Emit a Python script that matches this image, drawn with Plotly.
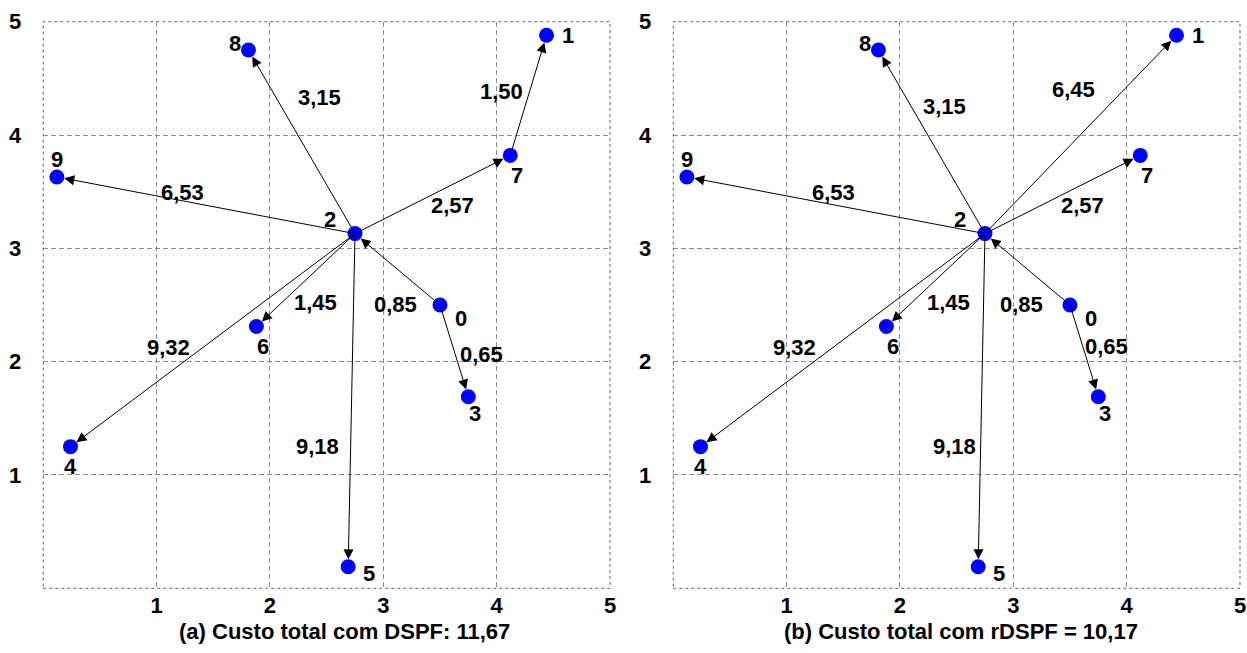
import plotly.graph_objects as go

# Node coordinates (ids 0..9)
node_ids = [0, 1, 2, 3, 4, 5, 6, 7, 8, 9]
node_x = [3.50, 4.44, 2.75, 3.75, 0.24, 2.69, 1.88, 4.12, 1.81, 0.12]
node_y = [2.50, 4.88, 3.13, 1.69, 1.25, 0.19, 2.31, 3.82, 4.75, 3.63]

# Tree edges (source, target) and their costs for each strategy
edges_a = [(2, 8), (2, 9), (2, 7), (7, 1), (2, 6), (2, 4), (2, 5), (0, 2), (0, 3)]
costs_a = ["3,15", "6,53", "2,57", "1,50", "1,45", "9,32", "9,18", "0,85", "0,65"]

edges_b = [(2, 8), (2, 9), (2, 7), (2, 1), (2, 6), (2, 4), (2, 5), (0, 2), (0, 3)]
costs_b = ["3,15", "6,53", "2,57", "6,45", "1,45", "9,32", "9,18", "0,85", "0,65"]

titles = ["(a) Custo total com DSPF: 11,67", "(b) Custo total com rDSPF = 10,17"]
tick_vals = [1, 2, 3, 4, 5]
tick_text = ["1", "2", "3", "4", "5"]

# ---- styling ----
FONT = "Liberation Sans"
W, H = 1247, 653
PX_LEFT = [43.3, 673.3]
PX_W = 566.7
PX_TOP, PX_BOT = 21.7, 588.3

# pixel offsets of node labels (dx right, dy down)
node_label_off = {0: (21, 13), 1: (21, 0), 2: (-25, -14), 3: (7, 17), 4: (0, 20),
                  5: (21, 7), 6: (7, 20), 7: (7, 20), 8: (-13, -7), 9: (0, -17)}

# pixel offsets of cost labels from the edge midpoint (dx right, dy down)
cost_label_off = [
    {(2, 8): (18, -44), (2, 9): (-23.5, -13), (2, 7): (19.5, 10.7), (7, 1): (-26.6, -4),
     (2, 6): (9.5, 22.9), (2, 4): (-44.3, 7), (2, 5): (-34.1, 46.3), (0, 2): (-1.8, 35.5),
     (0, 3): (27.5, 3.8)},
    {(2, 8): (12.3, -35), (2, 9): (-2.2, -13.2), (2, 7): (19.5, 10.7), (2, 1): (-7.2, -44.9),
     (2, 6): (12.8, 22.9), (2, 4): (-48, 6.9), (2, 5): (-27.4, 46.3), (0, 2): (-5.8, 35.5),
     (0, 3): (22.5, -4.5)},
]
title_center_px = [(344.5, 631.7), (961, 631.7)]

fig = go.Figure()
annotations = []
shapes = []

panels = [(edges_a, costs_a), (edges_b, costs_b)]
for k, (edges, costs) in enumerate(panels):
    xa = "x" if k == 0 else "x2"
    ya = "y" if k == 0 else "y2"

    # arrows
    for (s, t) in edges:
        annotations.append(dict(
            x=node_x[t], y=node_y[t], ax=node_x[s], ay=node_y[s],
            xref=xa, yref=ya, axref=xa, ayref=ya, text="",
            showarrow=True, arrowhead=2, arrowsize=2, arrowwidth=1,
            arrowcolor="black", standoff=7.5, startstandoff=0))

    # cost labels
    for (s, t), c in zip(edges, costs):
        dx, dy = cost_label_off[k][(s, t)]
        annotations.append(dict(
            x=(node_x[s] + node_x[t]) / 2, y=(node_y[s] + node_y[t]) / 2,
            xref=xa, yref=ya, text=c, showarrow=False,
            xshift=dx, yshift=-dy,
            font=dict(family=FONT, size=22, color="black", weight="bold")))

    # nodes
    fig.add_trace(go.Scatter(
        x=node_x, y=node_y, mode="markers", xaxis=xa, yaxis=ya,
        marker=dict(size=15, color="#0000ff", line=dict(width=0)),
        hoverinfo="skip"))

    # node labels
    for i, nx, ny in zip(node_ids, node_x, node_y):
        dx, dy = node_label_off[i]
        annotations.append(dict(
            x=nx, y=ny, xref=xa, yref=ya, text=str(i), showarrow=False,
            xshift=dx, yshift=-dy,
            font=dict(family=FONT, size=22, color="black", weight="bold")))

    # dotted frame
    shapes.append(dict(type="rect", xref=f"{xa} domain", yref=f"{ya} domain",
                       x0=0, x1=1, y0=0, y1=1,
                       line=dict(color="#666666", width=1, dash="dot")))

    # caption
    cx, cy = title_center_px[k]
    annotations.append(dict(
        x=cx / W, y=1 - cy / H, xref="paper", yref="paper",
        xanchor="center", yanchor="middle", text=titles[k], showarrow=False,
        font=dict(family=FONT, size=22, color="black", weight="bold")))

axis_common = dict(
    range=[0, 5], tickmode="array", tickvals=tick_vals, ticktext=tick_text,
    showgrid=True, gridcolor="#8c8c8c", gridwidth=1, griddash="5px,3px",
    zeroline=False, showline=False, ticks="", automargin=False,
    tickfont=dict(family=FONT, size=22, color="black", weight="bold"),
)

y_dom = [1 - PX_BOT / H, 1 - PX_TOP / H]
fig.update_layout(
    width=W, height=H, margin=dict(l=0, r=0, t=0, b=0),
    paper_bgcolor="white", plot_bgcolor="white", showlegend=False,
    xaxis=dict(domain=[PX_LEFT[0] / W, (PX_LEFT[0] + PX_W) / W], anchor="y",
               ticklabelstandoff=2, **axis_common),
    yaxis=dict(domain=y_dom, anchor="x", ticklabelstandoff=21, **axis_common),
    xaxis2=dict(domain=[PX_LEFT[1] / W, (PX_LEFT[1] + PX_W) / W], anchor="y2",
                ticklabelstandoff=2, **axis_common),
    yaxis2=dict(domain=y_dom, anchor="x2", ticklabelstandoff=21, **axis_common),
    annotations=annotations, shapes=shapes,
)

fig.write_html("out.html")
